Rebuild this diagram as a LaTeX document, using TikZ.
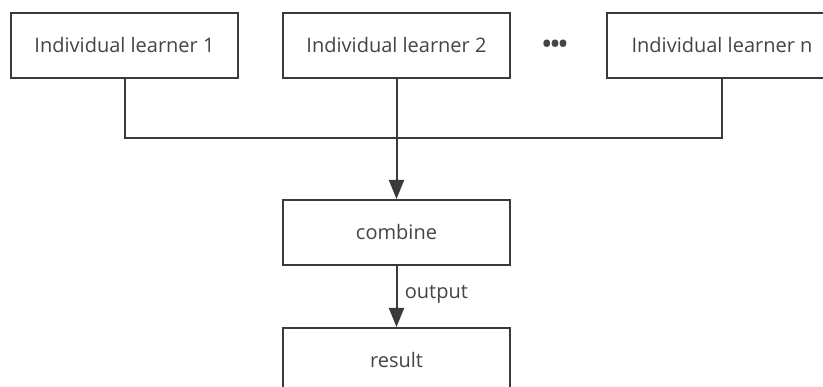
\documentclass[tikz,border=0pt]{standalone}
\usepackage{fontspec}
\setmainfont{Open Sans}
\usetikzlibrary{arrows.meta}
\definecolor{linegray}{HTML}{3A3A3A}
\definecolor{textgray}{HTML}{444444}
\tikzset{
  box/.style={draw=linegray, line width=2pt, fill=white, minimum width=227pt, minimum height=65pt, inner sep=0pt, text=textgray, font=\fontsize{20}{24}\selectfont},
  link/.style={draw=linegray, line width=2pt},
  arrowlink/.style={link, -{Triangle[length=19pt,width=15pt]}}
}
\begin{document}
\begin{tikzpicture}[x=1pt, y=-1pt]
                \clip (0,0) rectangle (823,387);
                \node[box] (l1) at (124.5,45.5) {Individual learner 1};
                \node[box] (l2) at (396.5,45.5) {Individual learner 2};
                \node[text=textgray, font=\fontsize{24}{28}\selectfont\bfseries, inner sep=0pt] (dots) at (555,46) {\textbullet\hspace{-1pt}\textbullet\hspace{-1pt}\textbullet};
                \node[box, minimum width=230pt] (ln) at (722,45.5) {Individual learner n};
                \node[box] (combine) at (396.5,232.5) {combine};
                \node[box] (result) at (396.5,360.5) {result};
                \coordinate (join) at (396.5,138);
                \draw[link] (l1.south) |- (join) -| (ln.south);
                \draw[arrowlink] (l2.south) -- (combine.north);
                \draw[arrowlink] (combine.south) -- node[right, text=textgray, font=\fontsize{20}{24}\selectfont, xshift=4pt, yshift=2pt] (outlabel) {output} (result.north);
            \end{tikzpicture}
\end{document}
